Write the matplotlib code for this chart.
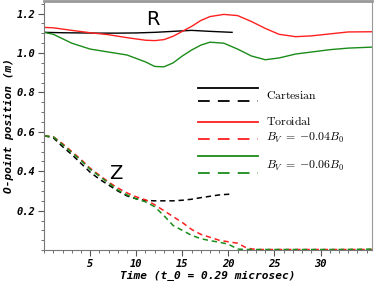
import matplotlib
matplotlib.use("Agg")
import matplotlib.pyplot as plt
from matplotlib.lines import Line2D
from matplotlib.ticker import MultipleLocator

plt.rcParams['mathtext.fontset'] = 'cm'

### R (major radius of O-point) ###
t_cart_R = [0, 2, 4, 6, 8, 10, 12, 14, 16, 18, 20.4]
R_cart = [1.105, 1.103, 1.102, 1.101, 1.101, 1.102, 1.105, 1.11, 1.115, 1.11, 1.105]

t_tor_R = [0, 1, 3, 5, 7, 9, 11, 12, 13, 14, 15, 16, 17, 18, 19.5, 21, 22.5, 24, 25.5, 27.3, 29, 31, 33, 35.6]
R_tor4 = [1.13, 1.128, 1.115, 1.103, 1.093, 1.078, 1.065, 1.063, 1.068, 1.085, 1.11, 1.135, 1.165, 1.185, 1.196, 1.19, 1.16, 1.125, 1.095, 1.083, 1.087, 1.097, 1.107, 1.108]
R_tor6 = [1.105, 1.095, 1.05, 1.02, 1.005, 0.99, 0.955, 0.932, 0.93, 0.95, 0.985, 1.015, 1.04, 1.055, 1.05, 1.02, 0.985, 0.966, 0.975, 0.995, 1.005, 1.017, 1.025, 1.03]

### Z (vertical position of O-point) ###
t_cart_Z = [0, 1, 2, 3, 4, 5, 6, 7, 8, 9, 10, 11, 12, 13, 14, 15, 16, 17, 18, 19, 20.5]
Z_cart = [0.58, 0.57, 0.525, 0.485, 0.44, 0.395, 0.36, 0.33, 0.30, 0.275, 0.26, 0.252, 0.25, 0.25, 0.25, 0.253, 0.258, 0.266, 0.273, 0.28, 0.285]

t_tor_Z = [0, 1, 2, 3, 4, 5, 6, 7, 8, 9, 10, 11, 12, 13, 14, 15, 16, 17, 18, 19, 20, 21, 22, 23, 28, 32, 35.6]
Z_tor4 = [0.58, 0.575, 0.54, 0.50, 0.46, 0.415, 0.38, 0.345, 0.315, 0.29, 0.27, 0.255, 0.23, 0.20, 0.17, 0.14, 0.105, 0.08, 0.065, 0.05, 0.042, 0.035, 0.01, 0.003, 0.003, 0.003, 0.003]
Z_tor6 = [0.58, 0.575, 0.535, 0.495, 0.455, 0.41, 0.375, 0.34, 0.305, 0.28, 0.26, 0.245, 0.22, 0.175, 0.125, 0.10, 0.075, 0.058, 0.048, 0.04, 0.03, 0.005, 0.003, 0.003, 0.003, 0.003, 0.005]

fig = plt.figure(figsize=(3.74, 2.81), dpi=100)
ax = fig.add_axes([0.118, 0.11, 0.877, 0.885])

dash = (0, (3.5, 2.5))
ax.plot(t_cart_R, R_cart, color='black', lw=1.0)
ax.plot(t_tor_R, R_tor4, color='#ff2020', lw=1.0)
ax.plot(t_tor_R, R_tor6, color='#1a8c1a', lw=1.0)
ax.plot(t_cart_Z, Z_cart, color='black', lw=1.1, linestyle=dash)
ax.plot(t_tor_Z, Z_tor4, color='#ff2020', lw=1.1, linestyle=dash)
ax.plot(t_tor_Z, Z_tor6, color='#1a8c1a', lw=1.1, linestyle=dash)

ax.text(11.8, 1.17, 'R', fontsize=14, ha='center', va='center')
ax.text(7.8, 0.39, 'Z', fontsize=14, ha='center', va='center')

# hand-made legend (axes fraction)
leg = [
    ('black', '-', 0.652), ('black', '--', 0.600),
    ('#ff2020', '-', 0.516), ('#ff2020', '--', 0.448),
    ('#1a8c1a', '-', 0.380), ('#1a8c1a', '--', 0.312),
]
for c, ls, yy in leg:
    style = '-' if ls == '-' else (0, (6.5, 4.5))
    ax.add_line(Line2D([0.470, 0.652], [yy, yy], transform=ax.transAxes,
                       color=c, lw=1.3, linestyle=style))
lfont = dict(family='DejaVu Serif', fontsize=8.5, transform=ax.transAxes, va='center')
ax.text(0.675, 0.622, r'$\mathrm{Cartesian}$', **lfont)
ax.text(0.675, 0.516, r'$\mathrm{Toroidal}$', **lfont)
ax.text(0.675, 0.452, r'$B_V\;=\;{-0.04}B_0$', **lfont)
ax.text(0.675, 0.340, r'$B_V\;=\;{-0.06}B_0$', **lfont)

ax.set_xlim(0, 35.6)
ax.set_ylim(0, 1.262)
ax.xaxis.set_minor_locator(MultipleLocator(1))
ax.yaxis.set_minor_locator(MultipleLocator(0.05))
ax.set_xticks([5, 10, 15, 20, 25, 30])
ax.set_yticks([0.2, 0.4, 0.6, 0.8, 1.0, 1.2])
ax.set_yticklabels(['0.2', '0.4', '0.6', '0.8', '1.0', '1.2'])

mono = dict(family='DejaVu Sans Mono', weight='bold', style='italic')
for lab in ax.get_xticklabels() + ax.get_yticklabels():
    lab.set_fontproperties(mono)
    lab.set_fontsize(7.5)
ax.tick_params(which='major', direction='out', length=4, width=0.8, color='#555555', pad=2.5)
ax.tick_params(which='minor', direction='out', length=2.5, width=0.6, color='#555555')
ax.set_xlabel('Time (t_0 = 0.29 microsec)', fontsize=8, labelpad=1, **mono)
ax.set_ylabel('O-point position (m)', fontsize=8, labelpad=2, **mono)

for s in ['left', 'bottom']:
    ax.spines[s].set_color('#777777')
for s in ['top', 'right']:
    ax.spines[s].set_color('#999999')
ax.spines['top'].set_linewidth(2)

fig.savefig('out.png', dpi=100)
